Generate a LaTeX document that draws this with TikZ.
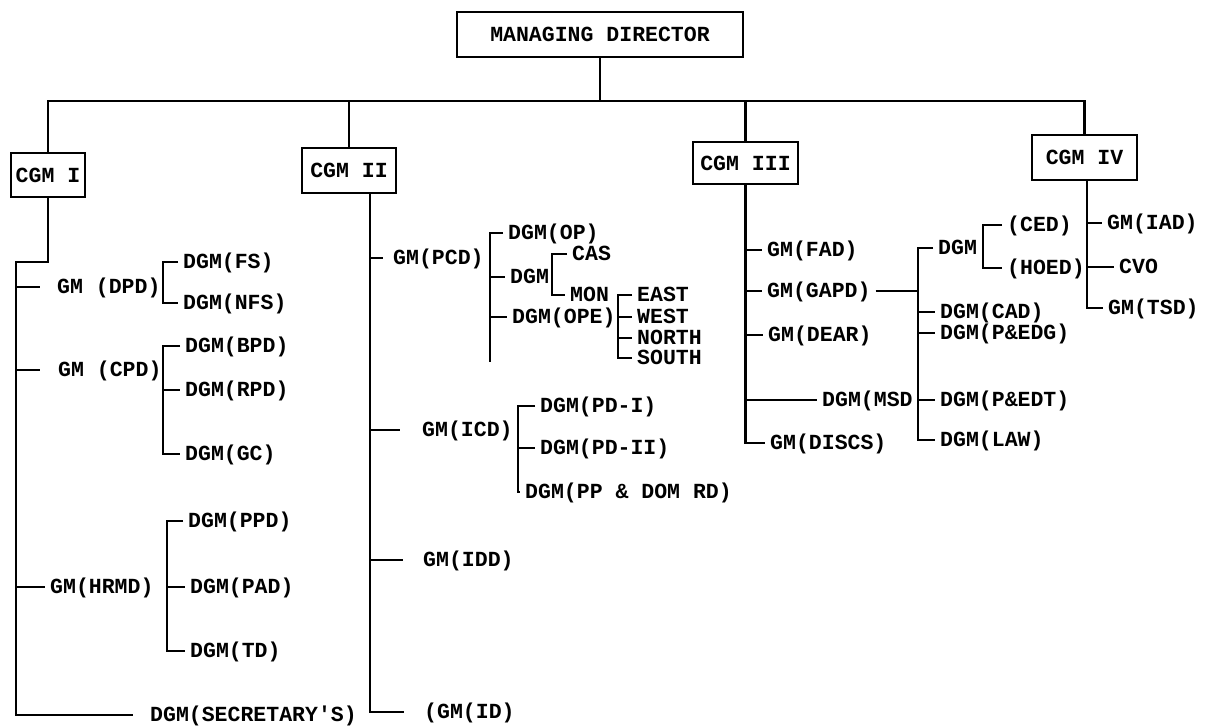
\documentclass[tikz,border=0pt]{standalone}
\usepackage{fontspec}
\newfontfamily\orgfont{Liberation Mono}
\newcommand{\chartfont}{\orgfont\bfseries\fontsize{15.3}{17}\selectfont}

\begin{document}
\begin{tikzpicture}[x=0.025cm,y=-0.025cm,
  post/.style={draw,line width=1.7pt,rectangle,font=\chartfont,inner sep=2pt},
  unit/.style={anchor=west,font=\chartfont,inner xsep=3.5pt,inner ysep=1pt,
               text height=9.5pt,text depth=0pt},
  link/.style={line width=1.8pt}
]
  \useasboundingbox (0,0) rectangle (1205,725);

  % Top of the chart
  \node[post,minimum width=7.15cm,minimum height=1.125cm] (md) at (600,34.5) {MANAGING DIRECTOR};
  \node[post,minimum width=1.85cm, minimum height=1.1cm]   (cgmI)   at (48,175)    {CGM I};
  \node[post,minimum width=2.35cm, minimum height=1.125cm] (cgmII)  at (349,170.5) {CGM II};
  \node[post,minimum width=2.625cm,minimum height=1.05cm]  (cgmIII) at (745.5,163) {CGM III};
  \node[post,minimum width=2.625cm,minimum height=1.125cm] (cgmIV)  at (1084.5,157.5) {CGM IV};

  \coordinate (bus) at (600,101);
  \draw[link] (md.south) -- (bus);
  \draw[link] (cgmI.north) |- (bus) -| (cgmIV.north);
  \draw[link] (cgmII.north) -- (cgmII.north |- bus);
  \draw[link] (cgmIII.north) -- (cgmIII.north |- bus);

  % CGM I
  \node[unit] (gmdpd)  at (52,287)  {GM (DPD)};
  \node[unit] (dgmfs)  at (178,262) {DGM(FS)};
  \node[unit] (dgmnfs) at (178,303) {DGM(NFS)};
  \node[unit] (gmcpd)  at (53,370)  {GM (CPD)};
  \node[unit] (dgmbpd) at (180,346) {DGM(BPD)};
  \node[unit] (dgmrpd) at (180,390) {DGM(RPD)};
  \node[unit] (dgmgc)  at (180,454) {DGM(GC)};
  \node[unit] (gmhrmd) at (45,587)  {GM(HRMD)};
  \node[unit] (dgmppd) at (183,521) {DGM(PPD)};
  \node[unit] (dgmpad) at (185,587) {DGM(PAD)};
  \node[unit] (dgmtd)  at (185,651) {DGM(TD)};
  \node[unit] (dgmsec) at (145,715) {DGM(SECRETARY'S)};

  \coordinate (tIa) at (16,262);
  \coordinate (tIb) at (16,715);
  \draw[link,shorten >=8.5pt] (cgmI.south) |- (tIa) -- (tIb) -- (dgmsec.west);
  \draw[link,shorten >=8.5pt] (tIa |- gmdpd.west) -- (gmdpd.west);
  \draw[link,shorten >=9pt] (tIa |- gmcpd.west) -- (gmcpd.west);
  \draw[link] (tIa |- gmhrmd.west) -- (gmhrmd.west);

  \coordinate (bdpd) at (163,280);
  \draw[link] (dgmfs.west) -| (bdpd) |- (dgmnfs.west);
  \coordinate (bcpd) at (163,400);
  \draw[link] (dgmbpd.west) -| (bcpd) |- (dgmgc.west);
  \draw[link] (bcpd |- dgmrpd.west) -- (dgmrpd.west);
  \coordinate (bhrmd) at (167,600);
  \draw[link] (dgmppd.west) -| (bhrmd) |- (dgmtd.west);
  \draw[link] (bhrmd |- dgmpad.west) -- (dgmpad.west);

  % CGM II
  \node[unit] (gmpcd)  at (388,258) {GM(PCD)};
  \node[unit] (dgmop)  at (503,233) {DGM(OP)};
  \node[unit] (dgmx)   at (505,277) {DGM};
  \node[unit] (cas)    at (567,254) {CAS};
  \node[unit] (mon)    at (565,295) {MON};
  \node[unit] (dgmope) at (507,317) {DGM(OPE)};
  \node[unit] (east)   at (632,295) {EAST};
  \node[unit] (west)   at (632,317) {WEST};
  \node[unit] (north)  at (632,338) {NORTH};
  \node[unit] (south)  at (632,358) {SOUTH};
  \node[unit] (gmicd)  at (417,430) {GM(ICD)};
  \node[unit] (pdi)    at (535,406) {DGM(PD-I)};
  \node[unit] (pdii)   at (535,448) {DGM(PD-II)};
  \node[unit] (ppdom)  at (520,492) {DGM(PP \& DOM RD)};
  \node[unit] (gmidd)  at (418,560) {GM(IDD)};
  \node[unit] (gmid)   at (419,712) {(GM(ID)};

  \coordinate (tII) at (370,712);
  \draw[link,shorten >=11pt] (tII |- cgmII.south) -- (tII) -- (gmid.west);
  \draw[link,shorten >=3.5pt] (tII |- gmpcd.west) -- (gmpcd.west);
  \draw[link,shorten >=12pt] (tII |- gmicd.west) -- (gmicd.west);
  \draw[link,shorten >=10.5pt] (tII |- gmidd.west) -- (gmidd.west);

  \coordinate (bpcd) at (490,362);
  \draw[link] (dgmop.west) -| (bpcd);
  \draw[link] (bpcd |- dgmx.west) -- (dgmx.west);
  \draw[link] (bpcd |- dgmope.west) -- (dgmope.west);
  \coordinate (bdgmx) at (552,275);
  \draw[link] (cas.west) -| (bdgmx) |- (mon.west);
  \coordinate (bope) at (618,330);
  \draw[link] (east.west) -| (bope) |- (south.west);
  \draw[link] (bope |- west.west) -- (west.west);
  \draw[link] (bope |- north.west) -- (north.west);
  \coordinate (bicd) at (518,450);
  \draw[link] (pdi.west) -| (bicd) |- (ppdom.west);
  \draw[link] (bicd |- pdii.west) -- (pdii.west);

  % CGM III
  \node[unit] (gmfad)   at (762,250) {GM(FAD)};
  \node[unit] (gmgapd)  at (762,291) {GM(GAPD)};
  \node[unit] (gmdear)  at (763,335) {GM(DEAR)};
  \node[unit] (dgmmsd)  at (817,400) {DGM(MSD};
  \node[unit] (gmdiscs) at (765,443) {GM(DISCS)};
  \node[unit] (dgmy)    at (933,248) {DGM};
  \node[unit] (ced)     at (1002,225) {(CED)};
  \node[unit] (hoed)    at (1002,268) {(HOED)};
  \node[unit] (cad)     at (935,312) {DGM(CAD)};
  \node[unit] (pedg)    at (935,333) {DGM(P\&EDG)};
  \node[unit] (pedt)    at (935,400) {DGM(P\&EDT)};
  \node[unit] (law)     at (935,440) {DGM(LAW)};

  \draw[link] (cgmIII.south) |- (gmdiscs.west);
  \draw[link] (cgmIII.south |- gmfad.west) -- (gmfad.west);
  \draw[link] (cgmIII.south |- gmgapd.west) -- (gmgapd.west);
  \draw[link] (cgmIII.south |- gmdear.west) -- (gmdear.west);
  \draw[link] (cgmIII.south |- dgmmsd.west) -- (dgmmsd.west);

  \coordinate (bgapd) at (918,350);
  \draw[link] (dgmy.west) -| (bgapd) |- (law.west);
  \draw[link] (gmgapd.east) -- (gmgapd.east -| bgapd);
  \draw[link] (bgapd |- cad.west) -- (cad.west);
  \draw[link] (bgapd |- pedg.west) -- (pedg.west);
  \draw[link] (bgapd |- pedt.west) -- (pedt.west);
  \coordinate (bdgmy) at (983,245);
  \draw[link] (ced.west) -| (bdgmy) |- (hoed.west);

  % CGM IV
  \node[unit] (gmiad) at (1102,223) {GM(IAD)};
  \node[unit] (cvo)   at (1114,267) {CVO};
  \node[unit] (gmtsd) at (1103,308) {GM(TSD)};

  \coordinate (tIV) at (1087,308);
  \draw[link] (tIV |- cgmIV.south) -- (tIV) -- (gmtsd.west);
  \draw[link] (tIV |- gmiad.west) -- (gmiad.west);
  \draw[link] (tIV |- cvo.west) -- (cvo.west);
\end{tikzpicture}
\end{document}
